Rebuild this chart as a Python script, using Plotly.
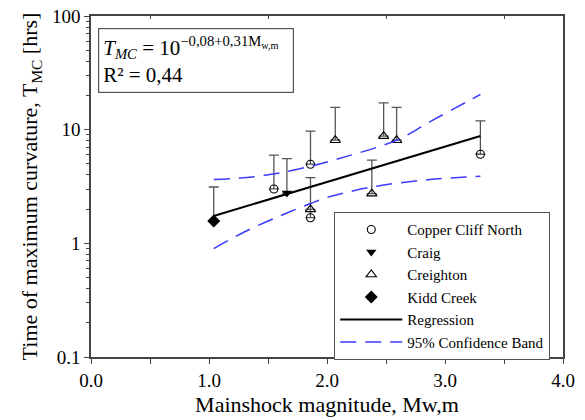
import plotly.graph_objects as go

# ---- data ----
ccn_m = [1.55, 1.86, 1.86, 3.30]
ccn_t = [3.01, 4.97, 1.68, 6.08]
ccn_top = [5.96, 9.70, 3.79, 11.96]

craig_m = [1.66]
craig_t = [2.77]
craig_top = [5.57]

crei_m = [1.86, 2.07, 2.38, 2.48, 2.59]
crei_t = [1.99, 8.08, 2.74, 8.77, 8.08]
crei_top = [1.99, 15.7, 5.39, 17.2, 15.7]

kidd_m = [1.04]
kidd_t = [1.57]
kidd_top = [3.13]

reg_m = [1.04, 3.30]
reg_t = [1.74, 8.81]

up_m = [1.04, 1.32, 1.60, 1.86, 2.03, 2.59, 2.87, 3.30]
up_t = [3.64, 3.79, 4.16, 4.77, 5.31, 8.08, 11.7, 20.4]
lo_m = [1.04, 1.32, 1.60, 1.86, 2.00, 2.38, 2.87, 3.30]
lo_t = [0.90, 1.29, 1.74, 2.24, 2.53, 3.13, 3.64, 3.89]

y_ticks = [0.1, 1, 10, 100]
y_labels = ["0.1", "1", "10", "100"]
top_ticks = [0.5, 1.5, 2.5, 3.5]

FONT = "Liberation Serif"
AX = "#444444"
EB = "#555555"


def plus(top, val):
    return [a - b for a, b in zip(top, val)]


def err(top, val):
    return dict(type="data", symmetric=False, array=plus(top, val),
                arrayminus=[0] * len(val), color=EB, thickness=1.3, width=5)


fig = go.Figure()

fig.add_trace(go.Scatter(x=ccn_m, y=ccn_t, mode="markers", name="Copper Cliff North",
                         marker=dict(symbol="circle-open", size=8, color="black",
                                     line=dict(width=1.1, color="black")),
                         error_y=err(ccn_top, ccn_t)))
fig.add_trace(go.Scatter(x=craig_m, y=craig_t, mode="markers", name="Craig",
                         marker=dict(symbol="triangle-down", size=9, color="black"),
                         error_y=err(craig_top, craig_t)))
fig.add_trace(go.Scatter(x=crei_m, y=crei_t, mode="markers", name="Creighton",
                         marker=dict(symbol="triangle-up-open", size=9, color="black",
                                     line=dict(width=1.1, color="black")),
                         error_y=err(crei_top, crei_t)))
fig.add_trace(go.Scatter(x=kidd_m, y=kidd_t, mode="markers", name="Kidd Creek",
                         marker=dict(symbol="diamond", size=10, color="black"),
                         error_y=err(kidd_top, kidd_t)))
fig.add_trace(go.Scatter(x=reg_m, y=reg_t, mode="lines", name="Regression",
                         line=dict(color="black", width=2)))
fig.add_trace(go.Scatter(x=up_m, y=up_t, mode="lines", name="95% Confidence Band",
                         line=dict(color="#3b3bff", width=1.5, dash="16px,9px", shape="spline"),
                         legendgroup="band"))
fig.add_trace(go.Scatter(x=lo_m, y=lo_t, mode="lines", name="95% Confidence Band",
                         line=dict(color="#3b3bff", width=1.5, dash="16px,9px", shape="spline"),
                         legendgroup="band", showlegend=False))
# invisible trace to carry the top axis
fig.add_trace(go.Scatter(x=[0, 4], y=[1, 1], xaxis="x2", mode="markers",
                         marker=dict(opacity=0), showlegend=False, hoverinfo="skip"))

fig.update_layout(
    width=585, height=420,
    margin=dict(l=91, r=22, t=16, b=63),
    paper_bgcolor="white", plot_bgcolor="white",
    font=dict(family=FONT, size=18, color="black"),
    showlegend=True,
    xaxis=dict(range=[0, 4], tick0=0, dtick=1, tickformat=".1f", automargin=False,
               ticks="outside", ticklen=5, tickcolor=AX, tickwidth=1.2,
               minor=dict(ticks="outside", ticklen=5, tickcolor=AX, tickwidth=1.2,
                          dtick=0.5, showgrid=False),
               showline=True, linecolor=AX, linewidth=1.5, mirror=True,
               showgrid=False, zeroline=False,
               tickfont=dict(size=19, family=FONT, color="black"),
               title=dict(text="Mainshock magnitude, Mw,m",
                          font=dict(size=22, family=FONT, color="black"), standoff=7)),
    xaxis2=dict(range=[0, 4], overlaying="x", side="top", tickvals=top_ticks,
                ticks="inside", ticklen=3, tickcolor=AX, tickwidth=1.2, automargin=False,
                showticklabels=False, showgrid=False, zeroline=False, showline=False),
    yaxis=dict(type="log", range=[-1, 2], tickvals=y_ticks, ticktext=y_labels,
               automargin=False,
               ticks="outside", ticklen=5, tickcolor=AX, tickwidth=1.2,
               minor=dict(ticks="outside", ticklen=3, tickcolor=AX, tickwidth=1,
                          tickvals=[k * d for d in (0.1, 1, 10) for k in range(2, 10)],
                          showgrid=False),
               showline=True, linecolor=AX, linewidth=1.5, mirror=True,
               showgrid=False, zeroline=False,
               tickfont=dict(size=19, family=FONT, color="black"),
               title=dict(text="Time of maximum curvature, T<sub>MC</sub> [hrs]",
                          font=dict(size=22, family=FONT, color="black"), standoff=8)),
    legend=dict(x=0.515, y=0.425, xanchor="left", yanchor="top",
                bordercolor="#555555", borderwidth=1.2, bgcolor="white",
                font=dict(size=15, family=FONT, color="black"), itemwidth=62,
                tracegroupgap=0),
    annotations=[dict(
        xref="paper", yref="paper", x=0.015, y=0.965, xanchor="left", yanchor="top",
        showarrow=False, align="left",
        text="<i>T</i><sub><i>MC</i></sub> = 10<sup>−0,08+0,31M<sub>w,m</sub></sup>  <br>R² = 0,44",
        font=dict(size=21, family=FONT, color="black"),
        bordercolor="#555555", borderwidth=1.2, borderpad=4, bgcolor="white")],
)

fig.write_html("out.html")
